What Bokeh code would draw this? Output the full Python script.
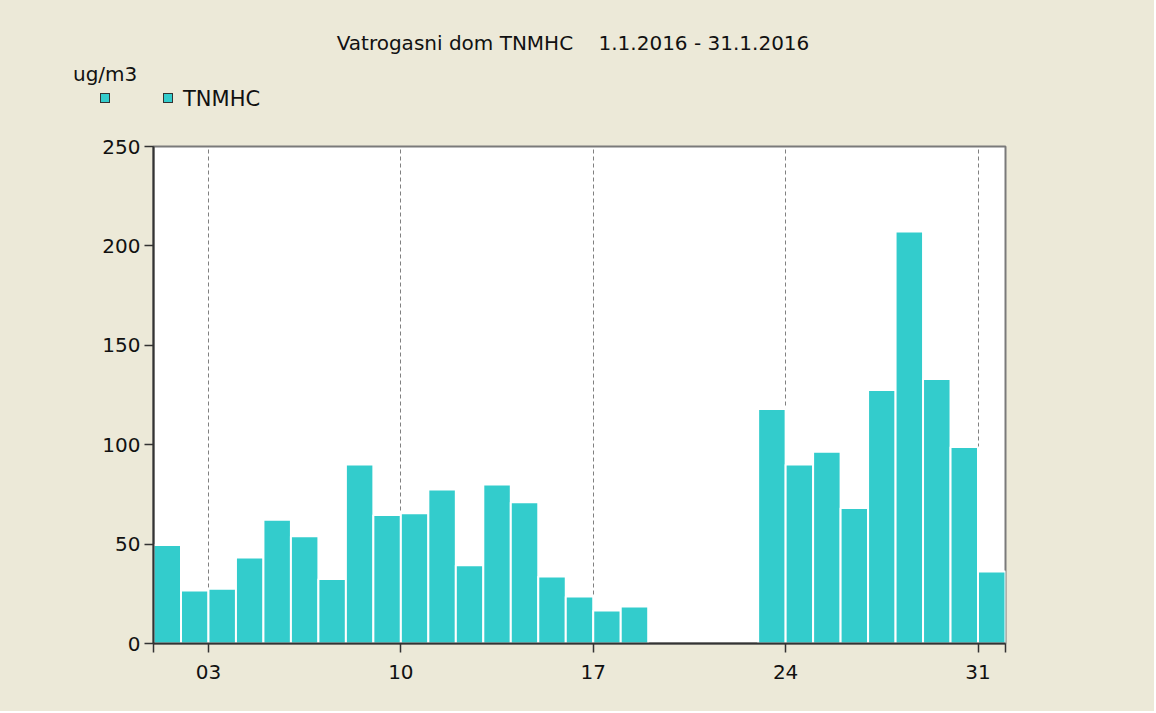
from bokeh.plotting import figure
from bokeh.layouts import column
from bokeh.models import Range1d, FixedTicker, ColumnDataSource, Div
from bokeh.embed import file_html
from bokeh.resources import INLINE

# ---- data ----
days = [1, 2, 3, 4, 5, 6, 7, 8, 9, 10, 11, 12, 13, 14, 15, 16, 17, 18,
        23, 24, 25, 26, 27, 28, 29, 30, 31]
tnmhc = [49.5, 26.7, 27.5, 43.3, 62.2, 54.0, 32.5, 90.0, 64.7, 65.5, 77.5,
         39.4, 80.0, 71.1, 33.7, 23.6, 16.6, 18.6,
         117.9, 90.0, 96.4, 68.1, 127.5, 207.2, 133.1, 98.9, 36.2]
x_ticks = [3, 10, 17, 24, 31]
x_tick_labels = ["03", "10", "17", "24", "31"]
y_ticks = [0, 50, 100, 150, 200, 250]
title_text = "Vatrogasni dom TNMHC    1.1.2016 - 31.1.2016"
unit_text = "ug/m3"
legend_labels = ["", "TNMHC"]

BG = "#ECE9D8"
BAR = "#33CCCC"
FONT = "DejaVu Sans"
TXT = "#111111"

W = 1154
HEAD_H = 130
TOTAL_H = 711
MAIN_H = TOTAL_H - HEAD_H

# ---------- header (title, unit, legend) ----------
def span(text, left, top, size, extra=""):
    return (f'<span style="position:absolute;left:{left}px;top:{top}px;'
            f'font-size:{size}px;white-space:pre;line-height:normal;{extra}">{text}</span>')

parts = [
    span(title_text, 573, 31, 20, "transform:translateX(-50%);"),
    span(unit_text, 73, 62, 20),
]
sw_left = [100, 163]
for sl, lab in zip(sw_left, legend_labels):
    parts.append(f'<span style="position:absolute;left:{sl}px;top:93px;width:10px;'
                 f'height:10px;box-sizing:border-box;background:{BAR};'
                 f'border:1px solid #333333;"></span>')
    if lab:
        parts.append(span(lab, sl + 20, 87, 21))

header_html = (f'<div style="position:relative;width:{W}px;height:{HEAD_H}px;'
               f'background:{BG};font-family:\'{FONT}\';color:{TXT};overflow:hidden;">'
               + "".join(parts) + '</div>')
head = Div(text=header_html, width=W, height=HEAD_H, margin=0,
           styles={"background-color": BG})

# ---------- main chart ----------
src = ColumnDataSource(dict(
    left=[d for d in days],
    right=[d + 1 for d in days],
    top=tnmhc,
    bottom=[0] * len(days),
))

p = figure(width=W, height=MAIN_H, output_backend="svg", toolbar_location=None,
           x_range=Range1d(1, 32), y_range=Range1d(0, 250),
           min_border_left=153, min_border_right=W - 1005,
           min_border_top=146 - HEAD_H, min_border_bottom=TOTAL_H - 643)
p.background_fill_color = "white"
p.border_fill_color = BG
p.outline_line_color = "#7a7a7a"
p.outline_line_width = 2
p.margin = 0

p.quad(left="left", right="right", top="top", bottom="bottom",
       source=src, fill_color=BAR, line_color="white", line_width=2)

p.xaxis.ticker = FixedTicker(ticks=[1] + x_ticks + [32])
overrides = {1: "", 32: ""}
for t, lab in zip(x_ticks, x_tick_labels):
    overrides[t] = lab
p.xaxis.major_label_overrides = overrides
p.yaxis.ticker = FixedTicker(ticks=y_ticks)
for ax in (p.xaxis[0], p.yaxis[0]):
    ax.minor_tick_line_color = None
    ax.axis_line_color = "#333333"
    ax.axis_line_width = 2
    ax.major_tick_line_color = "#333333"
    ax.major_tick_line_width = 1.5
    ax.major_tick_in = 0
    ax.major_tick_out = 9
    ax.major_label_text_font = FONT
    ax.major_label_text_font_size = "20px"
    ax.major_label_text_color = TXT
p.xaxis.major_label_standoff = 12
p.yaxis.major_label_standoff = 4

p.ygrid.grid_line_color = None
p.xgrid.ticker = FixedTicker(ticks=x_ticks)
p.xgrid.grid_line_color = "#808080"
p.xgrid.grid_line_dash = "4 3"
p.xgrid.grid_line_width = 1

layout = column(head, p, spacing=0, margin=0, styles={"background-color": BG})
open("out.html", "w").write(file_html(layout, INLINE))
